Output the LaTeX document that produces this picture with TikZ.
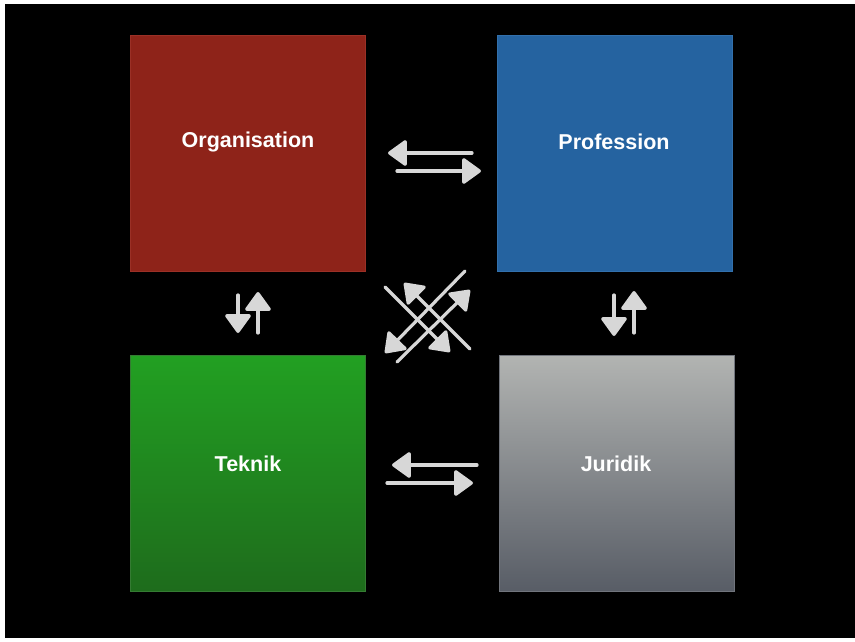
\documentclass[tikz,border=0pt]{standalone}
\usepackage{fontspec}
\setmainfont{Liberation Sans}
\usetikzlibrary{arrows.meta}
\definecolor{orgred}{RGB}{142,35,25}
\definecolor{orgredb}{RGB}{155,48,38}
\definecolor{profblue}{RGB}{37,99,160}
\definecolor{profblueb}{RGB}{50,112,172}
\definecolor{tekgreenT}{RGB}{34,160,34}
\definecolor{tekgreenB}{RGB}{30,108,28}
\definecolor{jurT}{RGB}{178,180,178}
\definecolor{jurB}{RGB}{88,93,102}
\definecolor{chalk}{RGB}{215,215,215}
\tikzset{
  boxnode/.style={rectangle, minimum width=235pt, minimum height=236pt, inner sep=0pt, line width=0.6pt},
  lbl/.style={text=white, font=\fontsize{21.5}{26}\selectfont\bfseries, inner sep=0pt},
  chalkarrow/.style={draw=chalk, line width=3.2pt, line cap=round,
    -{Triangle[length=20pt,width=28pt,round]}, fill=chalk},
}
\begin{document}
\begin{tikzpicture}[x=1pt,y=-1pt]
\fill[white] (0,0) rectangle (855,642);
\fill[black] (5,4) rectangle (855,638);
\useasboundingbox (0,0) rectangle (855,642);

% boxes
\node[boxnode, fill=orgred, draw=orgredb] (org) at (247.5,153) {};
\node[boxnode, fill=profblue, draw=profblueb] (prof) at (615,153) {};
\node[boxnode, top color=tekgreenT, bottom color=tekgreenB, draw=tekgreenB!90!white] (tek) at (247.5,473) {};
\node[boxnode, top color=jurT, bottom color=jurB, draw=jurB!85!white] (jur) at (617,473) {};

% labels
\node[lbl] (orgl) at (248,142) {Organisation};
\node[lbl] (profl) at (614,142) {Profession};
\node[lbl] (tekl) at (248,464) {Teknik};
\node[lbl] (jurl) at (616,464) {Juridik};

% arrow end points
\coordinate (h1a) at (472,153); \coordinate (h1b) at (388,153);
\coordinate (h2a) at (397,171); \coordinate (h2b) at (481,171);
\coordinate (h3a) at (477,465); \coordinate (h3b) at (392,465);
\coordinate (h4a) at (387,483); \coordinate (h4b) at (473,483);
\coordinate (v1a) at (238,295); \coordinate (v1b) at (238,333);
\coordinate (v2a) at (258,333); \coordinate (v2b) at (258,292);
\coordinate (v3a) at (614,295); \coordinate (v3b) at (614,336);
\coordinate (v4a) at (634,333); \coordinate (v4b) at (634,291);
\coordinate (dNWa) at (470,349); \coordinate (dNWb) at (404,283);
\coordinate (dSEa) at (385,287); \coordinate (dSEb) at (450,352);
\coordinate (dSWa) at (465,271); \coordinate (dSWb) at (385,353);
\coordinate (dNEa) at (397,362); \coordinate (dNEb) at (470,290);

% arrows
\draw[chalkarrow] (h1a) -- (h1b);
\draw[chalkarrow] (h2a) -- (h2b);
\draw[chalkarrow] (h3a) -- (h3b);
\draw[chalkarrow] (h4a) -- (h4b);
\draw[chalkarrow] (v1a) -- (v1b);
\draw[chalkarrow] (v2a) -- (v2b);
\draw[chalkarrow] (v3a) -- (v3b);
\draw[chalkarrow] (v4a) -- (v4b);
\draw[chalkarrow] (dNWa) -- (dNWb);
\draw[chalkarrow] (dSEa) -- (dSEb);
\draw[chalkarrow] (dSWa) -- (dSWb);
\draw[chalkarrow] (dNEa) -- (dNEb);
\end{tikzpicture}
\end{document}
